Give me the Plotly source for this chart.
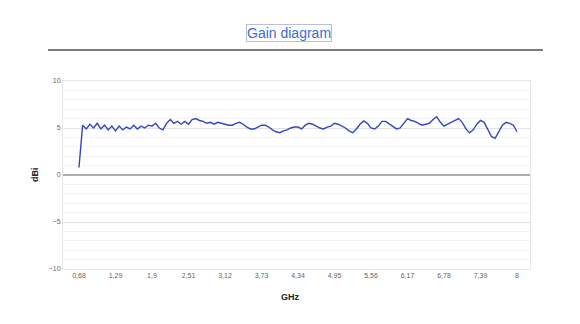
import numpy as np
import plotly.graph_objects as go

# Frequency sweep grid (GHz), 121 points from 0.68 to 8.0
freq_ghz = np.round(np.linspace(0.68, 8.0, 121), 3)

gain_dbi = [
    0.8, 5.3, 4.9, 5.4, 5.0, 5.5, 4.9, 5.3, 4.8, 5.2,
    4.7, 5.2, 4.8, 5.1, 4.9, 5.3, 4.9, 5.2, 5.0, 5.3,
    5.2, 5.5, 5.0, 4.8, 5.5, 5.9, 5.5, 5.7, 5.4, 5.7,
    5.4, 5.9, 6.0, 5.8, 5.7, 5.5, 5.6, 5.4, 5.6, 5.5,
    5.4, 5.3, 5.3, 5.5, 5.6, 5.4, 5.1, 4.9, 4.9, 5.1,
    5.3, 5.3, 5.1, 4.8, 4.6, 4.5, 4.7, 4.8, 5.0, 5.1,
    5.1, 4.9, 5.3, 5.5, 5.4, 5.2, 5.0, 4.9, 5.1, 5.2,
    5.5, 5.4, 5.2, 5.0, 4.7, 4.5, 4.9, 5.4, 5.75, 5.5,
    5.0, 4.9, 5.2, 5.7, 5.7, 5.4, 5.1, 4.9, 5.0, 5.5,
    6.0, 5.8, 5.7, 5.5, 5.3, 5.4, 5.5, 5.9, 6.2, 5.6,
    5.2, 5.4, 5.6, 5.8, 6.0, 5.6, 4.9, 4.5, 4.8, 5.4,
    5.8, 5.6, 4.9, 4.1, 3.9, 4.6, 5.3, 5.6, 5.5, 5.3,
    4.6,
]

x_tick_vals = [0.68, 1.29, 1.9, 2.51, 3.12, 3.73, 4.34, 4.95, 5.56, 6.17, 6.78, 7.39, 8.0]
x_tick_text = ["0,68", "1,29", "1,9", "2,51", "3,12", "3,73", "4,34",
               "4,95", "5,56", "6,17", "6,78", "7,39", "8"]
y_tick_vals = [-10, -5, 0, 5, 10]

title_text = "Gain diagram"
x_title = "GHz"
y_title = "dBi"

fig = go.Figure()
fig.add_trace(go.Scatter(
    x=freq_ghz, y=gain_dbi, mode="lines",
    line=dict(color="#3246c4", width=1.4),
    hoverinfo="x+y", showlegend=False,
))

fig.update_layout(
    width=580, height=324,
    margin=dict(l=63, r=50, t=81, b=55),
    paper_bgcolor="white", plot_bgcolor="white",
    font=dict(family="Liberation Sans, Arial, sans-serif", size=7, color="#666666"),
    showlegend=False,
)

fig.update_xaxes(
    range=[0.413, 8.217],
    tickvals=x_tick_vals, ticktext=x_tick_text,
    showgrid=False, zeroline=False,
    showline=True, linecolor="#e6e6e6", mirror=True,
    ticks="", ticklen=0, tickfont=dict(size=7, color="#666666"),
)
fig.update_yaxes(
    range=[-10, 10],
    tickvals=y_tick_vals,
    showgrid=True, gridcolor="#e2e2e2", gridwidth=1,
    minor=dict(dtick=1, tick0=0, showgrid=True, gridcolor="#f2f2f2", gridwidth=1),
    zeroline=True, zerolinecolor="#b0b0b0", zerolinewidth=1.5,
    showline=True, linecolor="#e6e6e6", mirror=True,
    ticks="", tickfont=dict(size=7, color="#666666"),
)

# Title with its thin box
fig.add_annotation(
    text=title_text, xref="paper", yref="paper",
    x=(289 - 63) / 467, y=(269 - 33) / 188,
    xanchor="center", yanchor="middle", showarrow=False,
    font=dict(family="Liberation Sans, Arial, sans-serif", size=14, color="#3d6bd6"),
    bordercolor="#b8c0d8", borderwidth=1, borderpad=0,
)

# Horizontal separator under the title
fig.add_shape(
    type="line", xref="paper", yref="paper",
    x0=(48 - 63) / 467, x1=(543 - 63) / 467,
    y0=(269 - 50) / 188, y1=(269 - 50) / 188,
    line=dict(color="#505050", width=1.5),
)

# Axis titles
fig.add_annotation(
    text="<b>%s</b>" % y_title, xref="paper", yref="paper",
    x=(35 - 63) / 467, y=0.5, textangle=-90,
    xanchor="center", yanchor="middle", showarrow=False,
    font=dict(family="Liberation Sans, Arial, sans-serif", size=9, color="#222222"),
)
fig.add_annotation(
    text="<b>%s</b>" % x_title, xref="paper", yref="paper",
    x=(290 - 63) / 467, y=(269 - 297) / 188,
    xanchor="center", yanchor="middle", showarrow=False,
    font=dict(family="Liberation Sans, Arial, sans-serif", size=9, color="#222222"),
)

fig.write_html("out.html")
